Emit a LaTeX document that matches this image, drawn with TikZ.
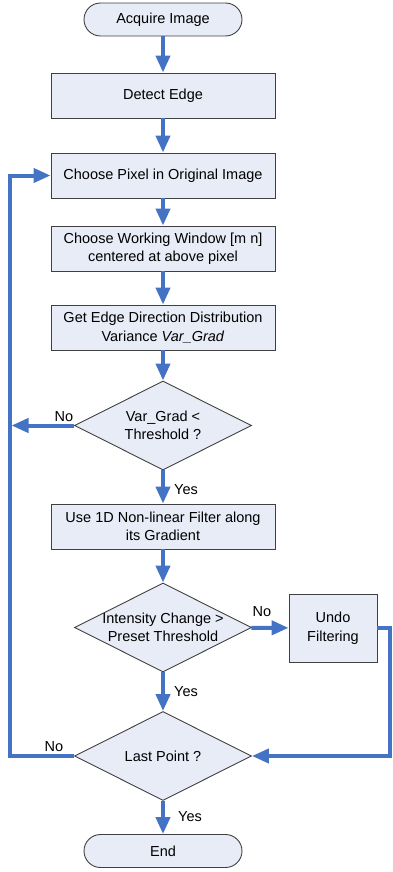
\documentclass[tikz,border=0pt]{standalone}
\usepackage{fontspec}
\setmainfont{Liberation Sans}
\usetikzlibrary{shapes.geometric,arrows.meta}
\definecolor{flowblue}{RGB}{68,114,196}
\definecolor{boxfill}{RGB}{231,236,247}
\definecolor{boxline}{RGB}{64,64,64}
\begin{document}
\begin{tikzpicture}[x=1pt,y=-1pt,
    font=\fontsize{14.5}{18.5}\selectfont,
    box/.style={rectangle,draw=boxline,fill=boxfill,line width=0.9pt,
      minimum width=224pt,minimum height=45pt,inner sep=0pt,align=center},
    terminal/.style={rectangle,rounded corners=16.5pt,draw=boxline,fill=boxfill,
      line width=0.9pt,minimum width=158pt,minimum height=33pt,inner sep=0pt},
    decision/.style={diamond,aspect=2,draw=boxline,fill=boxfill,line width=0.9pt,
      minimum width=177pt,minimum height=89pt,inner sep=-3pt,align=center},
    flow/.style={draw=flowblue,line width=4pt,
      -{Triangle[length=17pt,width=14pt]}},
    loopline/.style={draw=flowblue,line width=4pt}]

        \useasboundingbox (0,0) rectangle (393,872);

        \node[terminal] (1)  at (163,19.5)  {Acquire Image};
        \node[box]      (2)  at (163,95.5)  {Detect Edge};
        \node[box]      (3)  at (163,175.5) {Choose Pixel in Original Image};
        \node[box]      (4)  at (163,248.5) {Choose Working Window [m n]\\centered at above pixel};
        \node[box]      (5)  at (163,327.5) {Get Edge Direction Distribution\\Variance \textit{Var\_Grad}};
        \node[decision] (6)  at (163,425.5) {Var\_Grad <\\Threshold ?};
        \node[box]      (7)  at (163,526.5) {Use 1D Non-linear Filter along\\its Gradient};
        \node[decision] (8)  at (163,627.5) {Intensity Change >\\Preset Threshold};
        \node[box,minimum width=88pt,minimum height=68pt] (9) at (333,628) {Undo\\Filtering};
        \node[decision] (10) at (163,756)   {Last Point ?};
        \node[terminal] (11) at (163,851)   {End};

        \coordinate (a) at (9.5,425.5);
        \coordinate (b) at (9.5,756);
        \coordinate (c) at (9.5,175.5);
        \coordinate (d) at (390,628);
        \coordinate (e) at (390,756);

        \begin{scope}[every edge/.style={flow}]
          \path (1)  edge (2);
          \path (2)  edge (3);
          \path (3)  edge (4);
          \path (4)  edge (5);
          \path (5)  edge (6);
          \path (6)  edge (7);
          \path (7)  edge (8);
          \path (8)  edge (10);
          \path (10) edge (11);
          \path (6)  edge ([xshift=2pt]a);
          \path (8)  edge (9);
        \end{scope}

        % loop back and undo branch
        \draw[loopline] (10.west) -- (b) -- (a);
        \draw[flow] (a) -- (c) -- (3.west);
        \draw[flow] (9.east) -- (d) -- (e) -- (10.east);

        \begin{scope}[every node/.style={inner sep=0pt}]
          \node (n1) at (64,417)  {No};
          \node (y1) at (186,490) {Yes};
          \node (n2) at (262,612) {No};
          \node (y2) at (186,692) {Yes};
          \node (n3) at (54,747)  {No};
          \node (y3) at (190,817) {Yes};
        \end{scope}

      \end{tikzpicture}
\end{document}
